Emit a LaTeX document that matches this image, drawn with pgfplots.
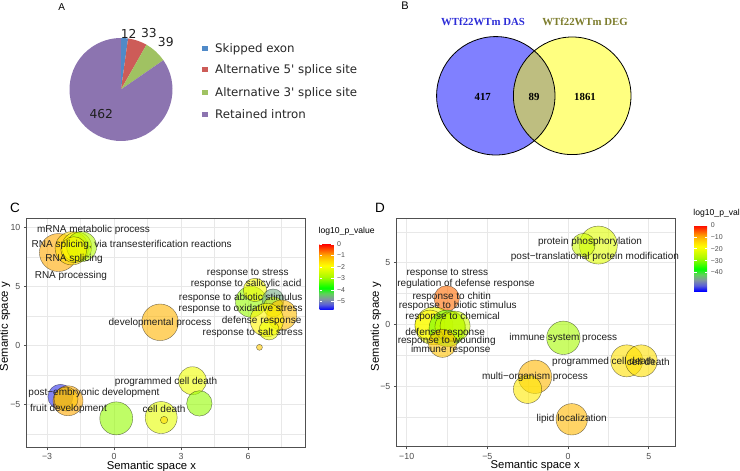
\documentclass[border=0pt]{standalone}
\usepackage{pgfplots}
\pgfplotsset{compat=1.18}
\usepackage{fontspec}
\setmainfont{Liberation Sans}
\newfontfamily\verd{DejaVu Sans}
\newfontfamily\tms{Liberation Serif}

\definecolor{pieBlue}{RGB}{80,138,200}
\definecolor{pieRed}{RGB}{205,92,88}
\definecolor{pieGreen}{RGB}{160,194,98}
\definecolor{piePurple}{RGB}{140,116,176}
\definecolor{vennBlue}{RGB}{128,128,255}
\definecolor{vennYellow}{RGB}{255,255,128}
\definecolor{vennMix}{RGB}{190,190,128}
\definecolor{titBlue}{RGB}{45,45,215}
\definecolor{titOlive}{RGB}{125,125,45}
\definecolor{tickgray}{RGB}{77,77,77}
\definecolor{framegray}{RGB}{80,80,80}
\definecolor{gridgray}{RGB}{232,232,232}

\tikzset{lab/.style={font=\fontsize{10}{12}\selectfont, text=black!88, inner sep=0pt}}
\pgfplotsset{
  colormap={revigo}{rgb255(0pt)=(0,0,255) rgb255(1pt)=(90,95,215) rgb255(2pt)=(130,150,160)
    rgb255(3pt)=(95,210,90) rgb255(4pt)=(0,255,0) rgb255(6pt)=(170,250,0)
    rgb255(8pt)=(255,255,0) rgb255(9pt)=(255,215,0) rgb255(10pt)=(255,165,0) rgb255(12pt)=(255,0,0)},
  semantic/.style={
    scale only axis, clip=false, colormap name=revigo,
    grid=both,
    major grid style={gridgray, line width=0.7pt},
    minor grid style={gridgray, line width=0.4pt},
    axis line style={framegray, line width=0.6pt},
    tick align=outside, major tick length=2.8pt, minor tick length=0pt,
    tick style={framegray, line width=0.5pt},
    xtick pos=bottom, ytick pos=left,
    tick label style={font=\fontsize{8.8}{10}\selectfont, text=tickgray},
    label style={font=\fontsize{11.3}{13}\selectfont, text=black},
  },
  bubble/.style={scatter, only marks, mark=*, scatter src=explicit,
    scatter/use mapped color={draw=black, fill=mapped color, fill opacity=0.6, draw opacity=0.55, line width=0.4pt},
    visualization depends on={\thisrow{r} \as \rr},
    scatter/@pre marker code/.append style={/tikz/mark size=\rr}},
  labels/.style={only marks, mark=*, mark size=0pt, mark options={draw=none, fill=none},
    nodes near coords, point meta=explicit symbolic,
    nodes near coords style={lab, anchor=center, opacity=1, text opacity=1}},
  cbar/.style={at={(parent axis.north east)}, anchor=north west,
    scale only axis, axis line style={draw=none},
    yticklabel style={font=\fontsize{7}{8}\selectfont, text=tickgray},
    tick style={white, line width=0.6pt}, major tick length=2.5pt, tick align=inside,
    title={log10\_p\_value},
    title style={at={(0,1)}, anchor=base west, xshift=-1pt, yshift=4pt, inner sep=0pt,
      font=\fontsize{8.6}{10}\selectfont}},
}

\begin{document}
\begin{tikzpicture}
\path[use as bounding box] (0pt,0pt) rectangle (740pt,471pt);

% pie slices: 12, 33, 39, 462 (clockwise from top)
\pgfmathsetmacro\tot{12+33+39+462}
\pgfmathsetmacro\aA{90}
\pgfmathsetmacro\aB{\aA-12/\tot*360}
\pgfmathsetmacro\aC{\aB-33/\tot*360}
\pgfmathsetmacro\aD{\aC-39/\tot*360}
\pgfmathsetmacro\aE{\aD-462/\tot*360}

% panels A and B
\begin{axis}[at={(0pt,0pt)}, anchor=south west, scale only axis, width=740pt, height=471pt,
    xmin=0, xmax=740, ymin=0, ymax=471, hide axis, clip=false]
  \fill[pieBlue] (axis cs:121,381.5) -- ++(\aA:51.5pt) arc[start angle=\aA, end angle=\aB, radius=51.5pt] -- cycle;
  \fill[pieRed] (axis cs:121,381.5) -- ++(\aB:51.5pt) arc[start angle=\aB, end angle=\aC, radius=51.5pt] -- cycle;
  \fill[pieGreen] (axis cs:121,381.5) -- ++(\aC:51.5pt) arc[start angle=\aC, end angle=\aD, radius=51.5pt] -- cycle;
  \fill[piePurple] (axis cs:121,381.5) -- ++(\aD:51.5pt) arc[start angle=\aD, end angle=\aE, radius=51.5pt] -- cycle;
  \fill[pieBlue] (axis cs:202.3,419.95) rectangle (axis cs:207.8,425.45);
  \fill[pieRed] (axis cs:202.3,398.95) rectangle (axis cs:207.8,404.45);
  \fill[pieGreen] (axis cs:202.3,375.95) rectangle (axis cs:207.8,381.45);
  \fill[piePurple] (axis cs:202.3,353.55) rectangle (axis cs:207.8,359.05);
  % venn
  \fill[vennBlue] (axis cs:495.8,375.2) circle[radius=59.2pt];
  \fill[vennYellow] (axis cs:572.2,375.2) circle[radius=58.8pt];
  \begin{scope}
    \clip (axis cs:495.8,375.2) circle[radius=59.2pt];
    \fill[vennMix] (axis cs:572.2,375.2) circle[radius=58.8pt];
  \end{scope}
  \draw[black, line width=0.8pt] (axis cs:495.8,375.2) circle[radius=59.2pt];
  \draw[black, line width=0.8pt] (axis cs:572.2,375.2) circle[radius=58.8pt];
\end{axis}

\begin{scope}[every node/.style={font=\verd\fontsize{12.3}{14}\selectfont, text=black!88, inner sep=0pt}]
  \node at (128.7pt,436.7pt) {12};
  \node at (149pt,437.7pt) {33};
  \node at (165.8pt,429.3pt) {39};
  \node at (101.3pt,356.8pt) {462};
\end{scope}
\begin{scope}[every node/.style={font=\verd\fontsize{11.8}{14}\selectfont, text=black!85, inner sep=0pt, anchor=base west}]
  \node at (215pt,418.4pt) {Skipped exon};
  \node at (215pt,397.4pt) {Alternative 5' splice site};
  \node at (215pt,374.4pt) {Alternative 3' splice site};
  \node at (215pt,352pt) {Retained intron};
\end{scope}
\begin{scope}[every node/.style={font=\tms\bfseries\fontsize{10.8}{13}\selectfont, inner sep=0pt}]
  \node[text=titBlue] at (483pt,449.3pt) {WTf22WTm DAS};
  \node[text=titOlive] at (585pt,449.3pt) {WTf22WTm DEG};
  \node at (482.7pt,374.3pt) {417};
  \node at (534pt,374.3pt) {89};
  \node at (585pt,374.3pt) {1861};
\end{scope}

\node[font=\fontsize{10}{12}\selectfont, inner sep=0pt] at (61.7pt,464.3pt) {A};
\node[font=\fontsize{11}{12}\selectfont, inner sep=0pt] at (405pt,465pt) {B};
\node[font=\fontsize{13.5}{15}\selectfont, inner sep=0pt] at (15pt,262.7pt) {C};
\node[font=\fontsize{13.5}{15}\selectfont, inner sep=0pt] at (380pt,262.7pt) {D};

% panel C
\begin{axis}[semantic, at={(26.7pt,23.7pt)}, anchor=south west, width=279pt, height=229pt,
    xmin=-3.91, xmax=8.58, ymin=-8.64, ymax=10.76,
    xtick={-3,0,3,6}, xticklabels={−3,0,3,6}, minor xtick={-1.5,1.5,4.5,7.5},
    ytick={-5,0,5,10}, yticklabels={−5,0,5,10}, minor ytick={-7.5,-2.5,2.5,7.5},
    xlabel={Semantic space x}, ylabel={Semantic space y},
    x label style={at={(axis description cs:0.447,0)}, anchor=center, yshift=-18.8pt},
    y label style={at={(axis description cs:-0.078,0.527)}, anchor=center},
    point meta min=-5.75, point meta max=0,
    colorbar, colorbar style={cbar, xshift=5.3pt, yshift=-25.7pt, width=14pt, height=66pt,
      ytick={0,-1,-2,-3,-4,-5}, yticklabels={0,−1,−2,−3,−4,−5}}]
\addplot[bubble] table[x=x, y=y, meta=p] {
x y r p
-2.49 7.86 19 -1.0
-1.89 8.22 16.7 -1.5
-1.67 8.33 15 -2.0
-1.45 8.36 15 -2.8
-1.80 8.10 13 -1.8
2.06 1.95 18.3 -1.1
6.13 3.69 15.5 -3.0
6.31 4.69 11.7 -2.0
7.12 3.84 11 -4.6
7.13 3.27 10 -2.5
7.51 2.57 15 -1.2
6.84 2.14 16.7 -1.8
6.94 1.30 10 -2.1
6.51 -0.17 3 -1.3
-2.40 -4.36 12.5 -5.5
-2.06 -4.70 15 -1.0
-2.15 -4.55 12 -1.3
0.10 -6.19 16.5 -3.0
2.11 -6.12 16 -2.2
2.24 -6.33 3.7 -1.5
3.51 -3.00 14 -2.1
3.82 -4.92 12.7 -3.0
};
\addplot[labels] table[x=x, y=y, meta=t, col sep=semicolon] {
x;y;t
-0.92;9.75;mRNA metabolic process
0.79;8.53;RNA splicing, via transesterification reactions
-1.79;7.28;RNA splicing
-1.93;5.89;RNA processing
5.99;6.12;response to stress
5.91;5.16;response to salicylic acid
5.67;4.0;response to abiotic stimulus
5.67;3.09;response to oxidative stress
6.61;2.07;defense response
6.21;1.02;response to salt stress
2.06;1.93;developmental process
2.33;-3.09;programmed cell death
-0.9;-4.0;post−embryonic development
-2.04;-5.41;fruit development
2.24;-5.41;cell death
};
\end{axis}

% panel D
\begin{axis}[semantic, at={(396.7pt,24.3pt)}, anchor=south west, width=278.3pt, height=228.4pt,
    xmin=-10.62, xmax=6.63, ymin=-9.92, ymax=8.6,
    xtick={-10,-5,0,5}, xticklabels={−10,−5,0,5}, minor xtick={-7.5,-2.5,2.5},
    ytick={-5,0,5}, yticklabels={−5,0,5}, minor ytick={-7.5,-2.5,2.5,7.5},
    xlabel={Semantic space x}, ylabel={Semantic space y},
    x label style={at={(axis description cs:0.498,0)}, anchor=center, yshift=-19.2pt},
    y label style={at={(axis description cs:-0.0744,0.526)}, anchor=center},
    point meta min=-55.6, point meta max=0,
    colorbar, colorbar style={cbar, xshift=10.7pt, yshift=-6.7pt, width=13pt, height=66pt,
      ytick={0,-10,-20,-30,-40}, yticklabels={0,−10,−20,−30,−40}}]
\addplot[bubble] table[x=x, y=y, meta=p] {
x y r p
1.88 6.43 19 -22
0.95 6.43 11.7 -24
-7.52 2.11 12.7 -6
-8.31 -0.12 19 -20
-8.56 -0.06 15 -18
-7.48 -0.32 18.3 -31
-7.32 -0.19 15 -25
-7.00 -0.14 15 -24
-7.78 -1.54 14 -12
-0.29 -1.09 16.7 -28
3.64 -2.96 16 -15
4.54 -2.96 16 -15
-2.05 -4.25 16.7 -11
-2.51 -5.26 14.2 -16
0.23 -7.70 15.7 -11
};
\addplot[labels] table[x=x, y=y, meta=t, col sep=semicolon] {
x;y;t
1.36;6.7;protein phosphorylation
1.67;5.49;post−translational protein modification
-7.48;4.16;response to stress
-6.32;3.27;regulation of defense response
-7.21;2.19;response to chitin
-6.84;1.49;response to biotic stimulus
-7.15;0.62;response to chemical
-7.62;-0.73;defense response
-7.52;-1.35;response to wounding
-7.27;-2.08;immune response
-0.29;-1.08;immune system process
2.19;-3.08;programmed cell death
4.98;-3.08;cell death
-2.05;-4.3;multi−organism process
0.23;-7.68;lipid localization
};
\end{axis}
\end{tikzpicture}
\end{document}
